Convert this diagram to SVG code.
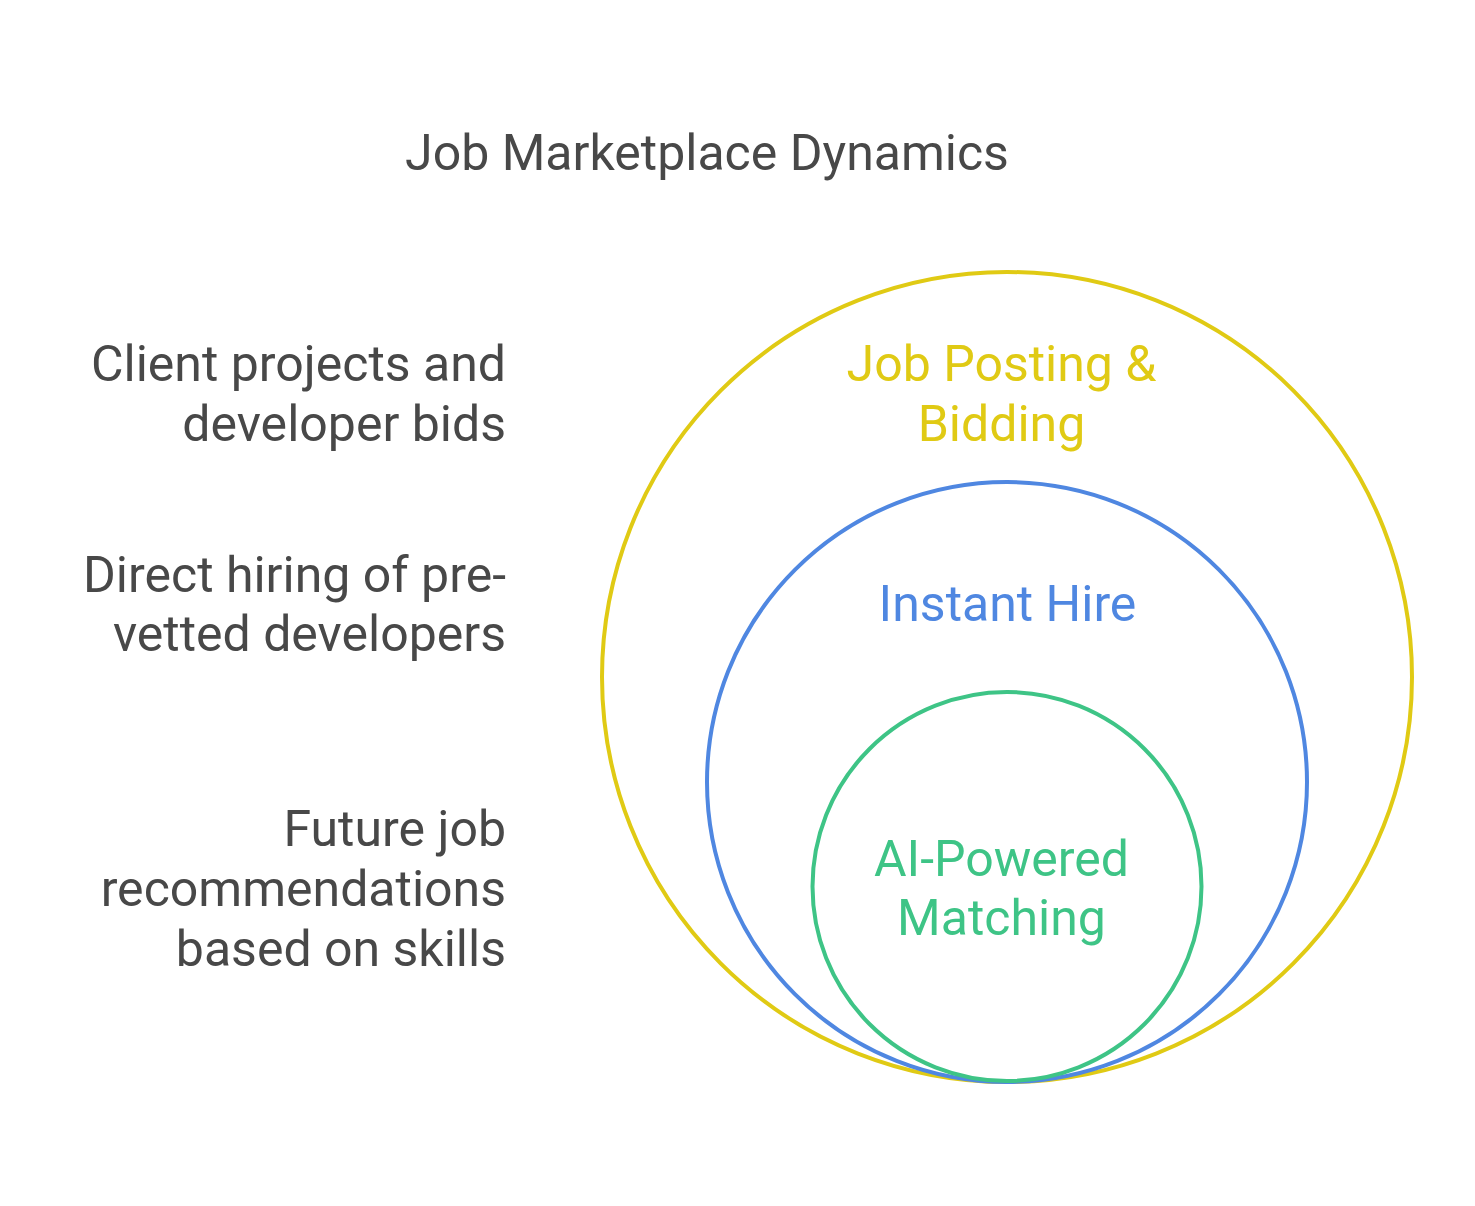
<svg xmlns="http://www.w3.org/2000/svg" width="1475" height="1206" viewBox="0 0 1475 1206">
  <style>
    text { font-family: Roboto, "Liberation Sans", sans-serif; font-size: 50px; }
    .title { fill: #484848; text-anchor: middle; }
    .desc { fill: #484848; text-anchor: end; }
    .ring { fill: none; stroke-width: 4; }
    .lbl { text-anchor: middle; }
  </style>
  <rect width="1475" height="1206" fill="#ffffff"/>
  <text class="title" x="707" y="170">Job Marketplace Dynamics</text>

  <g id="desc-bidding">
    <text class="desc" x="506" y="381">Client projects and</text>
    <text class="desc" x="506" y="441">developer bids</text>
  </g>
  <g id="desc-instant">
    <text class="desc" x="506" y="592">Direct hiring of pre-</text>
    <text class="desc" x="506" y="651">vetted developers</text>
  </g>
  <g id="desc-ai">
    <text class="desc" x="506" y="846">Future job</text>
    <text class="desc" x="506" y="906">recommendations</text>
    <text class="desc" x="506" y="966">based on skills</text>
  </g>

  <g id="ring-bidding">
    <circle class="ring" cx="1007" cy="677" r="405" stroke="#E0CA14"/>
    <text class="lbl" x="1001.5" y="381" fill="#E0CA14">Job Posting &amp;</text>
    <text class="lbl" x="1001.5" y="441" fill="#E0CA14">Bidding</text>
  </g>
  <g id="ring-instant">
    <circle class="ring" cx="1007" cy="782" r="300" stroke="#4F87E1"/>
    <text class="lbl" x="1007.5" y="621" fill="#4F87E1">Instant Hire</text>
  </g>
  <g id="ring-ai">
    <circle class="ring" cx="1007" cy="886.5" r="194.5" stroke="#3EC486"/>
    <text class="lbl" x="1001.5" y="876" fill="#3EC486">AI-Powered</text>
    <text class="lbl" x="1001.5" y="935" fill="#3EC486">Matching</text>
  </g>
</svg>
